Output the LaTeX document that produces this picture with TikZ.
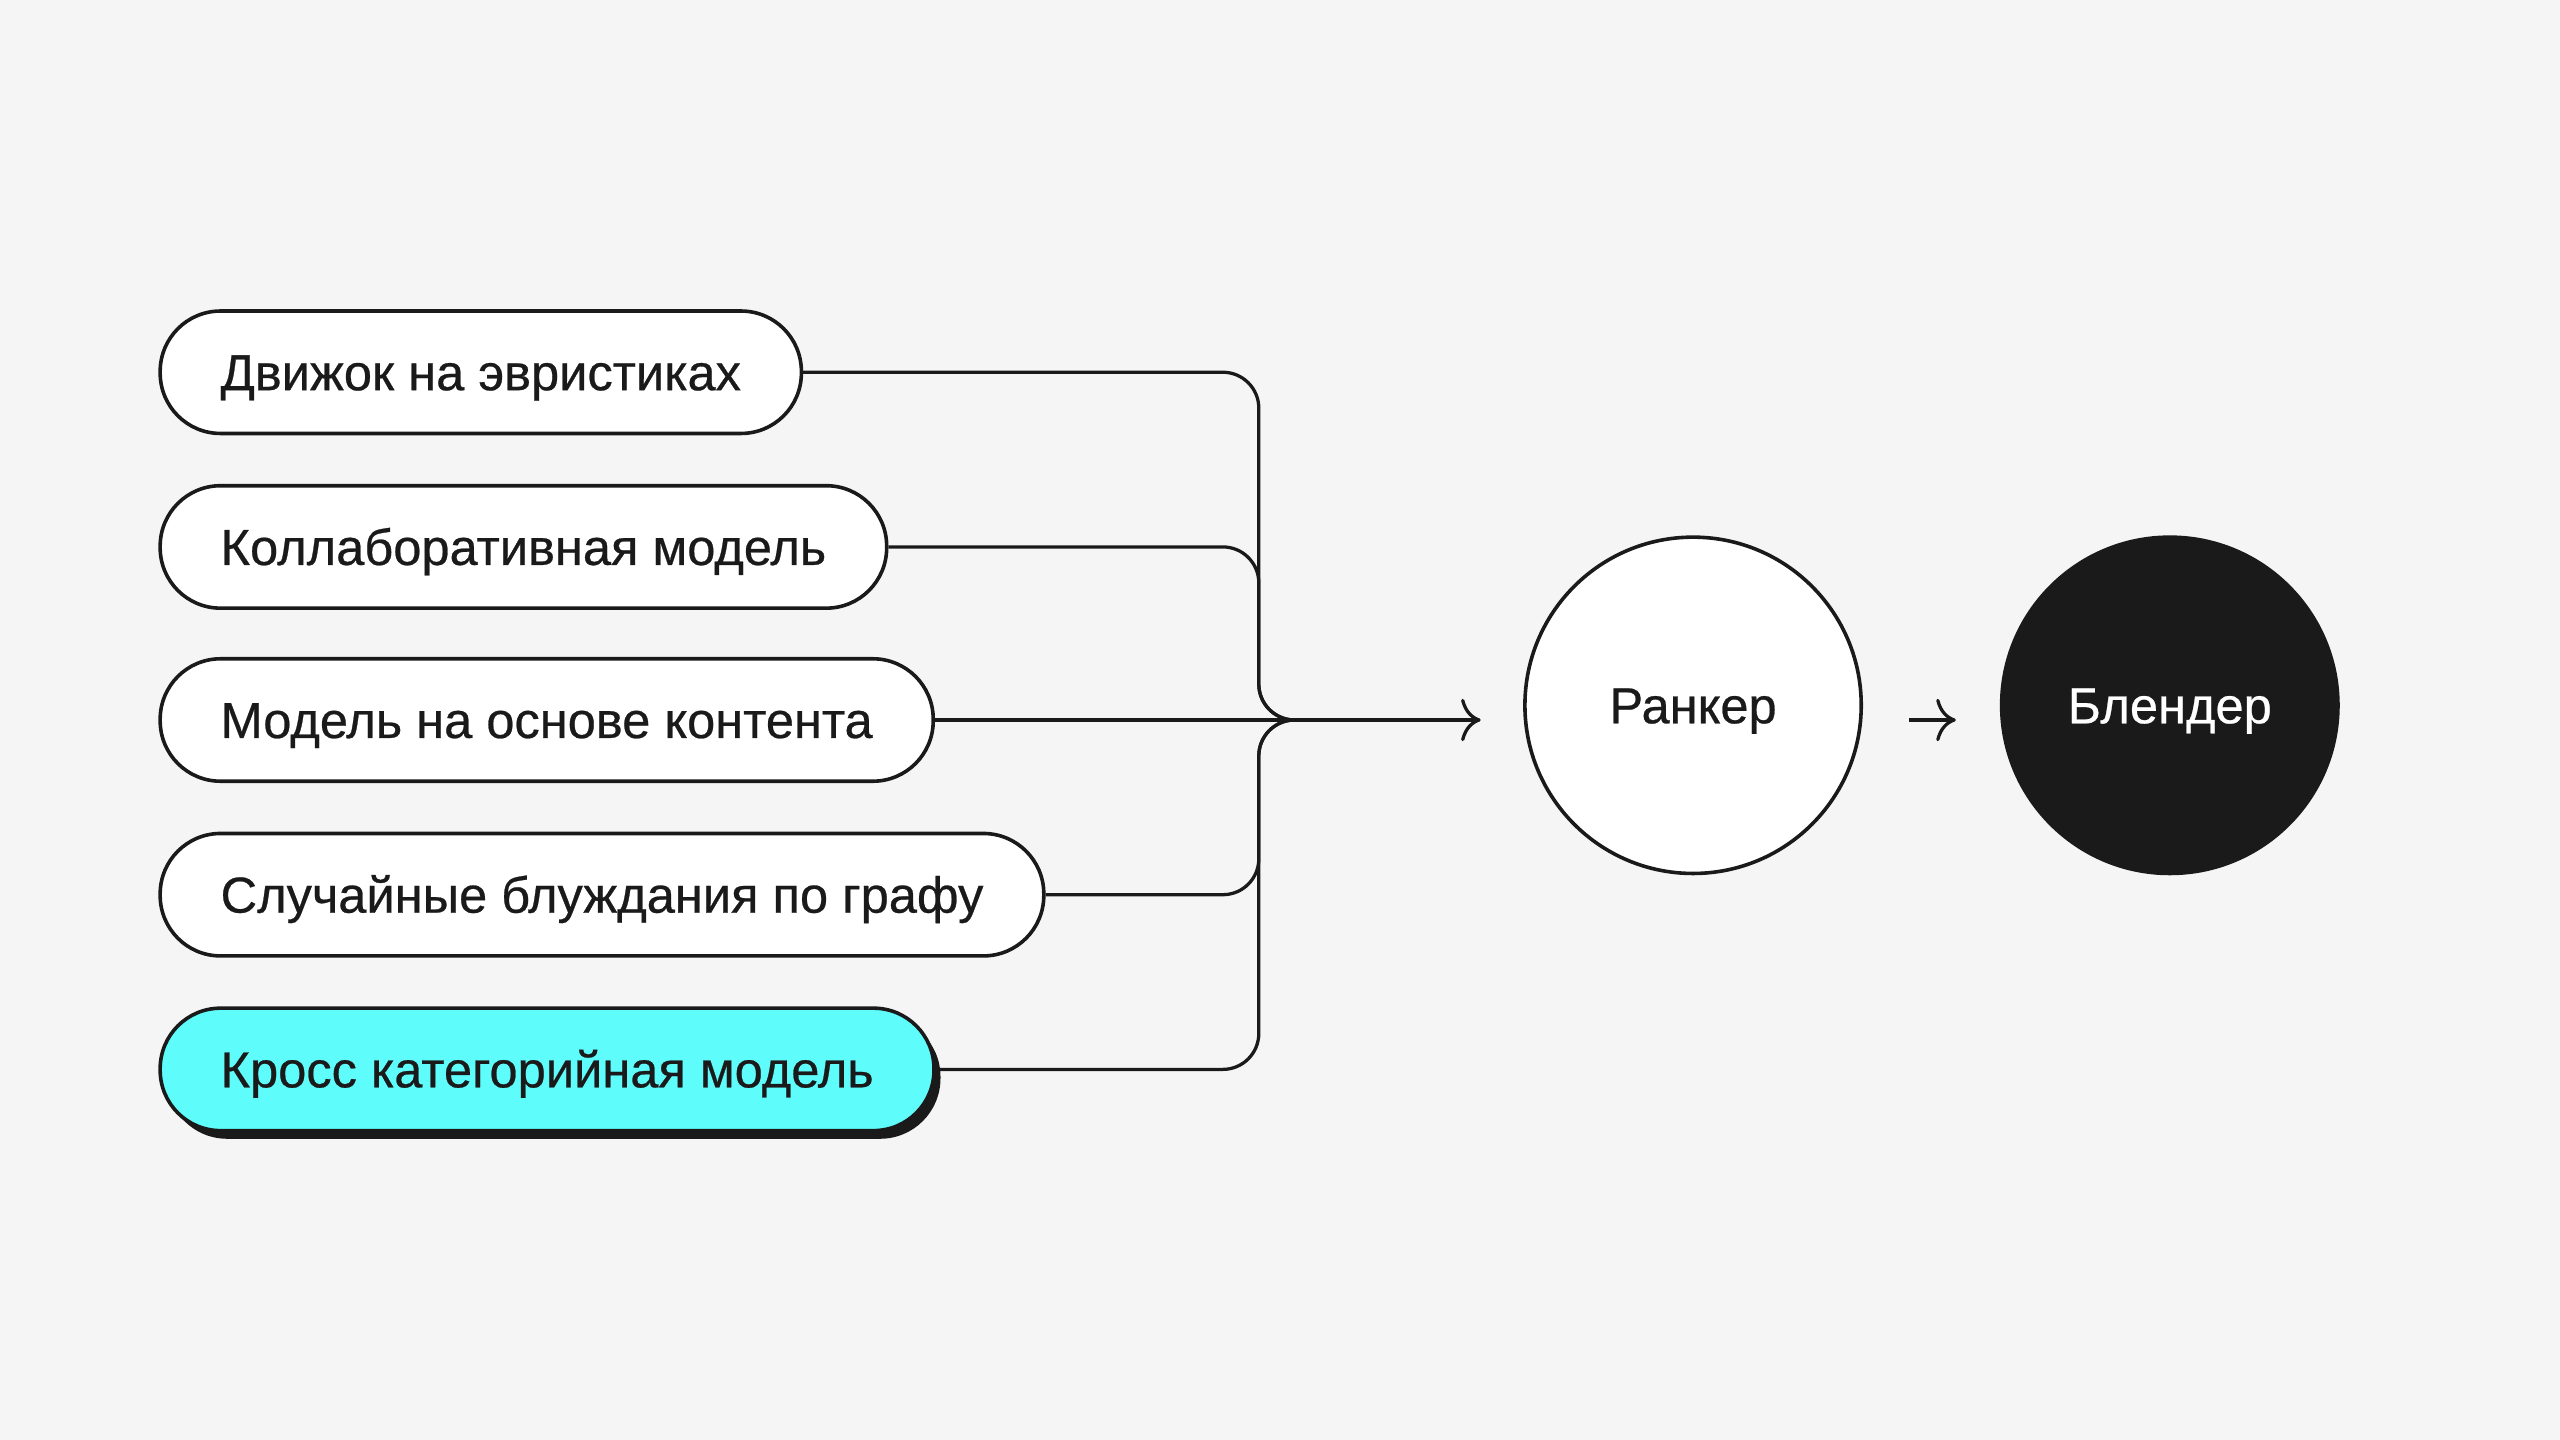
\documentclass[tikz,border=0pt]{standalone}
\usepackage{fontspec}
\setmainfont{Liberation Sans}[FakeBold=0.5]
\usetikzlibrary{arrows.meta,shadows}
\definecolor{ink}{HTML}{1A1A1A}
\definecolor{paper}{HTML}{F5F5F5}
\definecolor{aqua}{HTML}{5FFCFC}
\begin{document}
\begin{tikzpicture}[x=1pt,y=-1pt,
  model/.style={draw=ink, line width=2.2pt, fill=white, rounded corners=37pt, anchor=west,
    minimum height=75pt, inner xsep=37pt, text height=22pt, text depth=0pt,
    text=ink, font=\fontsize{31}{36}\selectfont},
  stage/.style={circle, draw=ink, line width=2.2pt, minimum size=206pt, inner sep=0pt,
    text height=22pt, text depth=0pt, font=\fontsize{31}{36}\selectfont},
  wire/.style={draw=ink, line width=2pt, rounded corners=22pt},
  tip/.style={-{Computer Modern Rightarrow[length=12pt,width=26pt]}}]
\useasboundingbox[fill=paper] (0,0) rectangle (1568,882);
\node [model] (heur) at (97,228) {Движок на эвристиках};
\node [model] (collab) at (97,335) {Коллаборативная модель};
\node [model] (content) at (97,441) {Модель на основе контента};
\node [model] (walk) at (97,548) {Случайные блуждания по графу};
\node [model, fill=aqua, drop shadow={shadow xshift=4pt, shadow yshift=-5pt, opacity=1, fill=ink}] (cross) at (97,655) {Кросс категорийная модель};
\node [stage, fill=white, text=ink] (rank) at (1037,432) {Ранкер};
\node [stage, fill=ink, text=white] (blend) at (1329,432) {Блендер};
\coordinate (knee) at (771,441);
\coordinate (hub) at (793,441);
\draw [wire] (heur.east) -| (knee) -- (hub);
\draw [wire] (collab.east) -| (knee) -- (hub);
\draw [wire] (content.east) -- (hub);
\draw [wire] (walk.east) -| (knee) -- (hub);
\draw [wire] (cross.east) -| (knee) -- (hub);
\draw [wire, tip, shorten >=26pt] (hub) -- (rank.west |- hub);
\draw [wire, tip, shorten <=28pt, shorten >=27pt] (rank.east |- hub) -- (blend.west |- hub);
\end{tikzpicture}
\end{document}
